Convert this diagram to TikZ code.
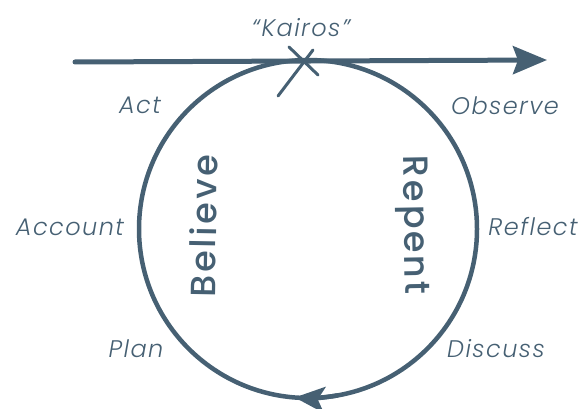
\documentclass[tikz,border=0pt]{standalone}
\usepackage{fontspec}
\usetikzlibrary{arrows.meta}
\newfontfamily\labfont{Poppins Light Italic}[LetterSpace=6]
\newfontfamily\bigfont{Poppins Medium}[LetterSpace=8]
\definecolor{ink}{RGB}{70,96,115}
\tikzset{
  lab/.style={text=ink, font=\labfont\fontsize{24}{24}\selectfont, inner sep=0pt},
  bigword/.style={text=ink, font=\bigfont\fontsize{35}{35}\selectfont, inner sep=0pt},
  stroke/.style={draw=ink, line cap=round},
}
\begin{document}
\begin{tikzpicture}[x=1pt,y=-1pt]
\useasboundingbox (0,0) rectangle (578,409);
% circle
\coordinate (c) at (308,229);
\draw[stroke, line width=4.5pt] (c) circle[radius=169];
\draw[stroke, line width=4.5pt, -{Stealth[length=30pt,width=26pt,inset=7pt]}]
  (c) ++(80:169) arc[start angle=80, end angle=94.5, radius=169];
% horizontal arrow
\coordinate (L) at (75,62);
\coordinate (R) at (547,60);
\draw[stroke, line width=5pt, -{Stealth[length=34pt,width=28pt,inset=5pt]}] (L) -- (R);
% X mark
\coordinate (x1) at (313,50); \coordinate (x2) at (278,96);
\coordinate (x3) at (289,47); \coordinate (x4) at (318,75);
\draw[stroke, line width=3pt] (x1) -- (x2);
\draw[stroke, line width=3pt] (x3) -- (x4);
% labels
\node[lab] (kairos) at (301,28) {“Kairos”};
\node[lab] (act) at (140,105) {Act};
\node[lab] (account) at (70,227) {Account};
\node[lab] (plan) at (136,349) {Plan};
\node[lab] (observe) at (505,106) {Observe};
\node[lab] (reflect) at (533,227) {Reflect};
\node[lab] (discuss) at (496,349) {Discuss};
\node[bigword, rotate=89] (believe) at (203,226) {Believe};
\node[bigword, rotate=-89] (repent) at (412,225) {Repent};
\end{tikzpicture}
\end{document}
